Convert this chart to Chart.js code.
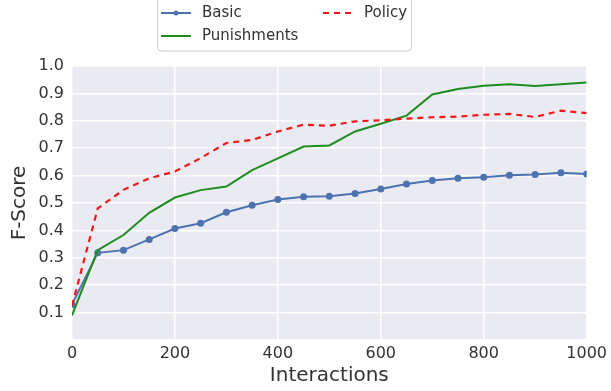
<!DOCTYPE html>
<html>
<head>
<meta charset="utf-8">
<script src="https://cdn.jsdelivr.net/npm/chart.js@4/dist/chart.umd.min.js"></script>
<style>
html,body{margin:0;padding:0;background:#fff;}
#wrap{width:611px;height:391px;position:relative;}
</style>
</head>
<body>
<div id="wrap"><canvas id="c" width="611" height="391"></canvas></div>
<script>
const interactions = [0,50,100,150,200,250,300,350,400,450,500,550,600,650,700,750,800,850,900,950,1000];
const basic = [0.13,0.318,0.328,0.367,0.407,0.426,0.466,0.492,0.513,0.523,0.525,0.535,0.551,0.569,0.582,0.59,0.594,0.601,0.604,0.61,0.606];
const punishments = [0.09,0.328,0.383,0.464,0.52,0.547,0.56,0.62,0.663,0.706,0.71,0.761,0.789,0.819,0.896,0.916,0.928,0.933,0.927,0.933,0.94];
const policy = [0.125,0.48,0.548,0.59,0.615,0.664,0.719,0.73,0.761,0.786,0.782,0.798,0.802,0.808,0.813,0.815,0.822,0.825,0.814,0.837,0.828];
const yTicks = [0.1,0.2,0.3,0.4,0.5,0.6,0.7,0.8,0.9,1.0];
const xTicks = [0,200,400,600,800,1000];
const seriesNames = ['Basic','Punishments','Policy'];

const FONT = "'DejaVu Sans', sans-serif";
const TEXT = '#333333';

const bgPlugin = {
  id: 'bg',
  beforeDraw(chart) {
    const {ctx, chartArea: a} = chart;
    ctx.save();
    ctx.fillStyle = '#EAEAF2';
    ctx.fillRect(a.left, a.top, a.right - a.left, a.bottom - a.top);
    ctx.restore();
  }
};

const legendPlugin = {
  id: 'customLegend',
  afterDraw(chart) {
    const ctx = chart.ctx;
    ctx.save();
    const x0 = 157.5, y0 = -6, w = 254, h = 57;
    const r = 4;
    ctx.beginPath();
    ctx.moveTo(x0 + r, y0);
    ctx.lineTo(x0 + w - r, y0);
    ctx.quadraticCurveTo(x0 + w, y0, x0 + w, y0 + r);
    ctx.lineTo(x0 + w, y0 + h - r);
    ctx.quadraticCurveTo(x0 + w, y0 + h, x0 + w - r, y0 + h);
    ctx.lineTo(x0 + r, y0 + h);
    ctx.quadraticCurveTo(x0, y0 + h, x0, y0 + h - r);
    ctx.lineTo(x0, y0 + r);
    ctx.quadraticCurveTo(x0, y0, x0 + r, y0);
    ctx.closePath();
    ctx.fillStyle = '#ffffff';
    ctx.fill();
    ctx.strokeStyle = '#cccccc';
    ctx.lineWidth = 1;
    ctx.stroke();

    const ds = chart.data.datasets;
    const items = [
      {d: ds[0], x: 161, y: 13},
      {d: ds[1], x: 161, y: 36},
      {d: ds[2], x: 323, y: 13}
    ];
    ctx.font = "15px " + FONT;
    ctx.textBaseline = 'middle';
    items.forEach(it => {
      ctx.beginPath();
      ctx.strokeStyle = it.d.borderColor;
      ctx.lineWidth = it.d.borderWidth;
      ctx.setLineDash(it.d.borderDash || []);
      ctx.moveTo(it.x, it.y);
      ctx.lineTo(it.x + 30, it.y);
      ctx.stroke();
      ctx.setLineDash([]);
      if (it.d.pointRadius > 0) {
        ctx.beginPath();
        ctx.fillStyle = it.d.borderColor;
        ctx.arc(it.x + 15, it.y, 2.5, 0, Math.PI * 2);
        ctx.fill();
      }
      ctx.fillStyle = TEXT;
      ctx.fillText(it.d.label, it.x + 41, it.y);
    });
    ctx.restore();
  }
};

const toXY = (arr) => interactions.map((x, i) => ({x: x, y: arr[i]}));

new Chart(document.getElementById('c'), {
  type: 'line',
  data: {
    datasets: [
      {label: seriesNames[0], data: toXY(basic), borderColor: '#4C72B0', backgroundColor: '#4C72B0',
       borderWidth: 2, pointRadius: 3.5, pointHoverRadius: 3.5, pointBorderWidth: 0, tension: 0, order: 3},
      {label: seriesNames[1], data: toXY(punishments), borderColor: '#1E8C1E', backgroundColor: '#1E8C1E',
       borderWidth: 2, pointRadius: 0, tension: 0, order: 2},
      {label: seriesNames[2], data: toXY(policy), borderColor: '#F01818', backgroundColor: '#F01818',
       borderWidth: 2.2, borderDash: [6, 5], pointRadius: 0, tension: 0, order: 1}
    ]
  },
  options: {
    responsive: false,
    animation: false,
    devicePixelRatio: 1,
    layout: {padding: {top: 66, right: 21, left: 0, bottom: 0}},
    plugins: {legend: {display: false}, tooltip: {enabled: false}},
    scales: {
      x: {
        type: 'linear', min: 0, max: 1000,
        afterBuildTicks(scale) { scale.ticks = xTicks.map(v => ({value: v})); },
        afterFit(scale) { scale.height = 51; },
        grid: {color: '#ffffff', lineWidth: 1.5, drawTicks: false},
        border: {display: false},
        ticks: {padding: 4, color: TEXT, font: {family: FONT, size: 16}, maxRotation: 0,
          callback: (v) => String(v)},
        title: {display: true, text: 'Interactions', color: TEXT, font: {family: FONT, size: 20}, padding: {top: 0, bottom: 3}}
      },
      y: {
        type: 'linear', min: 0, max: 1.0,
        afterBuildTicks(scale) { scale.ticks = [0].concat(yTicks).map(v => ({value: v})); },
        afterFit(scale) { scale.width = 72; },
        grid: {color: '#ffffff', lineWidth: 1.5, drawTicks: false},
        border: {display: false},
        ticks: {padding: 8, color: TEXT, font: {family: FONT, size: 16},
          callback: (v) => v === 0 ? '' : v.toFixed(1)},
        title: {display: true, text: 'F-Score', color: TEXT, font: {family: FONT, size: 20}, padding: {top: 8, bottom: 0}}
      }
    }
  },
  plugins: [bgPlugin, legendPlugin]
});
</script>
</body>
</html>
